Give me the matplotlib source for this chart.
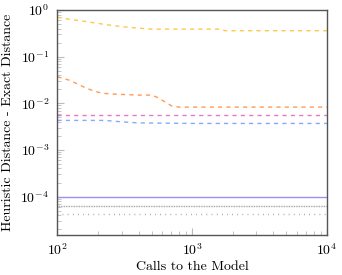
import matplotlib
matplotlib.use("Agg")
import matplotlib.pyplot as plt
from matplotlib.ticker import LogLocator, NullFormatter

plt.rcParams['font.family'] = ['cmr10', 'DejaVu Serif']
plt.rcParams['mathtext.fontset'] = 'cm'
plt.rcParams['axes.formatter.use_mathtext'] = True
plt.rcParams['lines.scale_dashes'] = False

# Data
yellow_x = [100, 124, 168, 225, 300, 395, 500, 1000, 1600, 1750, 3000, 10000]
yellow_y = [0.70, 0.63, 0.56, 0.49, 0.44, 0.41, 0.39, 0.39, 0.39, 0.36, 0.36, 0.36]

orange_x = [100, 124, 160, 183, 214, 282, 400, 500, 557, 708, 800, 2000, 10000]
orange_y = [0.037, 0.031, 0.0217, 0.0187, 0.0164, 0.0156, 0.015, 0.015, 0.0132, 0.0087, 0.0083, 0.0083, 0.0083]

pink_x = [100, 10000]
pink_y = [0.00565, 0.00565]

blue_x = [100, 225, 300, 400, 1000, 10000]
blue_y = [0.0043, 0.0043, 0.0040, 0.0038, 0.0037, 0.0037]

solid_x = [100, 10000]
solid_y = [9.7e-5, 9.7e-5]

dense_x = [100, 10000]
dense_y = [6.2e-5, 6.2e-5]

loose_x = [100, 10000]
loose_y = [4.2e-5, 4.2e-5]

fig = plt.figure(figsize=(3.42, 2.75), dpi=100)
ax = fig.add_axes([0.168, 0.1455, 0.788, 0.818])

ax.plot(yellow_x, yellow_y, color='#ffc84a', lw=1.0, dashes=(3, 3))
ax.plot(orange_x, orange_y, color='#ff9a55', lw=1.0, dashes=(3, 3))
ax.plot(pink_x, pink_y, color='#e77ab8', lw=1.0, dashes=(3, 3))
ax.plot(blue_x, blue_y, color='#88a8ff', lw=1.0, dashes=(3, 3))
ax.plot(solid_x, solid_y, color='#9d90f0', lw=1.0)
ax.plot(dense_x, dense_y, color='#999999', lw=1.0, dashes=(0.6, 0.6))
ax.plot(loose_x, loose_y, color='#888888', lw=1.0, dashes=(0.5, 3.2))

ax.set_xscale('log')
ax.set_yscale('log')
ax.set_xlim(100, 10000)
ax.set_ylim(1.5e-5, 1)

ax.xaxis.set_major_locator(LogLocator(base=10, numticks=10))
ax.yaxis.set_major_locator(LogLocator(base=10, numticks=10))
ax.xaxis.set_minor_locator(LogLocator(base=10, subs=range(2, 10), numticks=20))
ax.yaxis.set_minor_locator(LogLocator(base=10, subs=range(2, 10), numticks=20))
ax.xaxis.set_minor_formatter(NullFormatter())
ax.yaxis.set_minor_formatter(NullFormatter())

ax.tick_params(which='both', direction='in', color='#bbbbbb', top=False, right=False, labelsize=10)
ax.tick_params(which='major', length=5, width=0.8)
ax.tick_params(axis='x', which='major', pad=5)
ax.tick_params(axis='y', which='major', pad=6)
ax.tick_params(which='minor', length=3, width=0.6)

for s in ax.spines.values():
    s.set_color('#555555')
    s.set_linewidth(1.0)

ax.set_xlabel('Calls to the Model', fontsize=10, labelpad=2)
ax.set_ylabel('Heuristic Distance - Exact Distance', fontsize=10, labelpad=5)

fig.savefig('out.png', dpi=100)
